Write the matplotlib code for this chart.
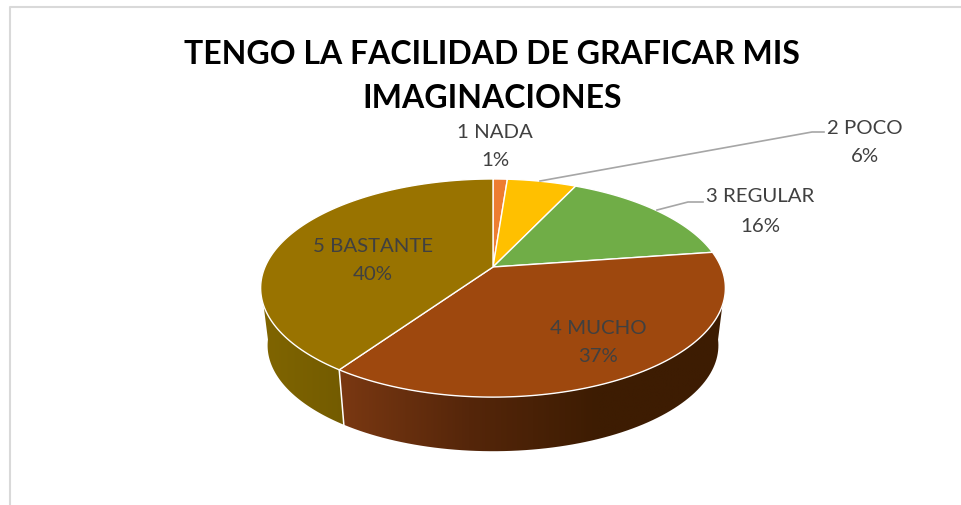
import numpy as np
import matplotlib
matplotlib.use('Agg')
from matplotlib import pyplot as plt
from matplotlib.colors import LinearSegmentedColormap
from matplotlib.patches import Polygon

categories = ['1 NADA', '2 POCO', '3 REGULAR', '4 MUCHO', '5 BASTANTE']
values = [1.2, 5.8, 15.7, 36.9, 40.4]
colors = ['#ED7D31', '#FFC000', '#70AD47', '#9E480E', '#997300']
title_lines = ['TENGO LA FACILIDAD DE GRAFICAR MIS', 'IMAGINACIONES']

plt.rcParams['font.family'] = ['Lato', 'DejaVu Sans']

# la tarta en perspectiva, en pixeles de la imagen
cx, cy = 493, 267
R, r, k = 228, 105, 0.193
scale_bottom, drop = 0.97, 58


def rim(ang, s=1.0, dy=0):
    t = np.radians(ang)
    X, Y = np.sin(t), np.cos(t)
    w = 1 + k * Y
    return cx + s * R * X / w, cy + dy - s * r * Y / w


def side(a0, a1, a0b, a1b, stops, x0, x1):
    # cara lateral con degradado horizontal
    ta = np.linspace(a0, a1, 80)
    tb = np.linspace(a1b, a0b, 80)
    xt, yt = rim(ta)
    xb, yb = rim(tb, scale_bottom, drop)
    poly = Polygon(np.r_[np.c_[xt, yt], np.c_[xb, yb]], closed=True, fc='none', ec='none')
    ax.add_patch(poly)
    cmap = LinearSegmentedColormap.from_list('g', stops)
    im = ax.imshow(np.linspace(0, 1, 256)[None, :], cmap=cmap, extent=(x0, x1, 470, 270),
                   aspect='auto', zorder=1)
    im.set_clip_path(poly)


fig = plt.figure(figsize=(9.62, 5.05), dpi=100)
ax = fig.add_axes([0, 0, 1, 1])

edges = np.r_[0, np.cumsum(values)] / sum(values) * 360

# caras laterales
side(edges[4], 250, edges[4], 262, ['#806500', '#735B00'], 262, 345)
side(edges[4], 110, edges[4], 98, ['#7A3812', '#55260A', '#3D1C02', '#3D1C02'], 340, 726)
xs, ys = rim(edges[4])
xe, ye = rim(edges[4], scale_bottom, drop)
ax.plot([xs, xe], [ys, ye], color='white', lw=1.1, zorder=2)

# cara superior
for i in range(len(values)):
    t = np.linspace(edges[i], edges[i + 1], 120)
    x, y = rim(t)
    ax.fill(np.r_[cx, x], np.r_[cy, y], fc=colors[i], ec='white', lw=1.0, zorder=3)

# lineas guia
ax.plot([540, 812, 824], [181, 132, 132], color='#A6A6A6', lw=1.2, zorder=4)
ax.plot([657, 688, 703], [210, 202, 202], color='#A6A6A6', lw=1.2, zorder=4)

# etiquetas
label_pos = [(495, 132), (865, 128), (760, 197), (598, 328), (373, 246)]
for name, val, (lx, ly) in zip(categories, values, label_pos):
    pct = f'{val / sum(values) * 100:.0f}%'
    ax.text(lx, ly, name, ha='center', va='center', fontsize=14.7, color='#404040', zorder=5)
    ax.text(lx, ly + 29, pct, ha='center', va='center', fontsize=14.7, color='#404040', zorder=5)

ax.text(492, 55, title_lines[0], ha='center', va='center', fontsize=23, fontweight='bold', color='black')
ax.text(492, 98, title_lines[1], ha='center', va='center', fontsize=23, fontweight='bold', color='black')

# borde del grafico
ax.plot([10, 10, 962], [505, 7, 7], color='#D9D9D9', lw=1.5, zorder=0)

ax.set_xlim(0, 962)
ax.set_ylim(505, 0)
ax.axis('off')
fig.savefig('out.png', dpi=100)
